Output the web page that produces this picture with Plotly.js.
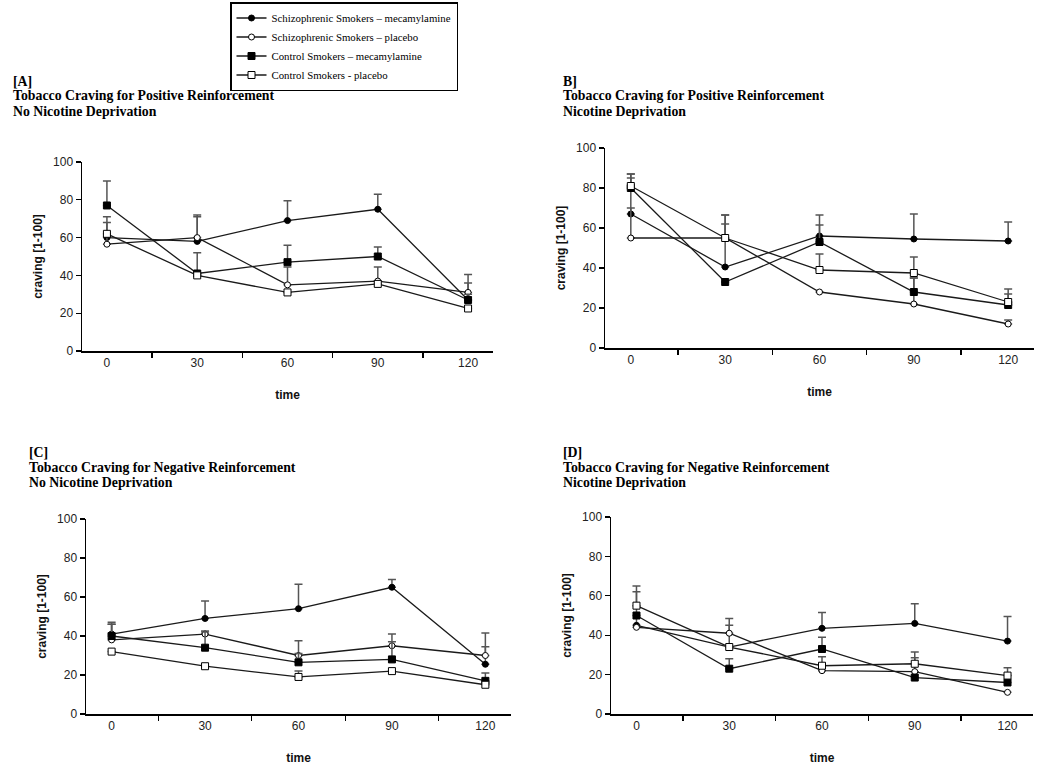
<!DOCTYPE html>
<html>
<head>
<meta charset="utf-8">
<script src="https://cdn.plot.ly/plotly-3.0.1.min.js"></script>
<style>
  body { margin: 0; background: #fff; }
  #chart { width: 1050px; height: 779px; }
</style>
</head>
<body>
<div id="chart"></div>
<script>
// time points (minutes)
const times = ['0', '30', '60', '90', '120'];

const seriesNames = [
  'Schizophrenic Smokers \u2013 mecamylamine',
  'Schizophrenic Smokers \u2013 placebo',
  'Control Smokers \u2013 mecamylamine',
  'Control Smokers - placebo'
];

// [A] positive reinforcement, no nicotine deprivation
const szMecaA = [60, 58, 69, 75, 27];
const szPlacA = [56.5, 60, 35, 37, 31];
const ctMecaA = [77, 41, 47, 50, 27];
const ctPlacA = [62, 40, 31, 35.5, 22.5];
const szMecaErrA = [8, 14, 10.5, 8, 13.5];
const szPlacErrA = [14.5, 11, 9.5, 7.5, 5];
const ctMecaErrA = [13, 11, 9, 5, 3];
const ctPlacErrA = [null, null, null, null, null];

// [B] positive reinforcement, nicotine deprivation
const szMecaB = [67, 40.5, 56, 54.5, 53.5];
const szPlacB = [55, 55, 28, 22, 12];
const ctMecaB = [80, 33, 53, 28, 21.5];
const ctPlacB = [81, 55, 39, 37.5, 23];
const szMecaErrB = [18, 21.5, 10.5, 12.5, 9.5];
const szPlacErrB = [15, 11.5, null, 13, 2];
const ctMecaErrB = [7, null, 8.5, 7, 5.5];
const ctPlacErrB = [6, 11.5, 8, 8, 6.5];

// [C] negative reinforcement, no nicotine deprivation
const szMecaC = [41, 49, 54, 65, 25.5];
const szPlacC = [38, 41, 30, 35, 30];
const ctMecaC = [40, 34, 26.5, 28, 17];
const ctPlacC = [32, 24.5, 19, 22, 15];
const szMecaErrC = [6, 9, 12.5, 4, 16];
const szPlacErrC = [8, 1.5, 7.5, 6, 4.5];
const ctMecaErrC = [6, 8, 4.5, 9, 4];
const ctPlacErrC = [null, null, 3, null, null];

// [D] negative reinforcement, nicotine deprivation
const szMecaD = [45, 34, 43.5, 46, 37];
const szPlacD = [44, 41, 22, 21.5, 11];
const ctMecaD = [50, 23, 33, 18.5, 16];
const ctPlacD = [55, 34, 24.5, 25.5, 19.5];
const szMecaErrD = [17, 11, 8, 10, 12.5];
const szPlacErrD = [null, 7.5, null, 7, null];
const ctMecaErrD = [null, 5, 6, null, null];
const ctPlacErrD = [10, null, 4.5, 6, 4];

const panelTitles = [
  ['[A]', 'Tobacco Craving for Positive Reinforcement', 'No Nicotine Deprivation'],
  ['B]', 'Tobacco Craving for Positive Reinforcement', 'Nicotine Deprivation'],
  ['[C]', 'Tobacco Craving for Negative Reinforcement', 'No Nicotine Deprivation'],
  ['[D]', 'Tobacco Craving for Negative Reinforcement', 'Nicotine Deprivation']
];

const panels = [
  { values: [szMecaA, szPlacA, ctMecaA, ctPlacA], errs: [szMecaErrA, szPlacErrA, ctMecaErrA, ctPlacErrA] },
  { values: [szMecaB, szPlacB, ctMecaB, ctPlacB], errs: [szMecaErrB, szPlacErrB, ctMecaErrB, ctPlacErrB] },
  { values: [szMecaC, szPlacC, ctMecaC, ctPlacC], errs: [szMecaErrC, szPlacErrC, ctMecaErrC, ctPlacErrC] },
  { values: [szMecaD, szPlacD, ctMecaD, ctPlacD], errs: [szMecaErrD, szPlacErrD, ctMecaErrD, ctPlacErrD] }
];

// marker look per series: filled circle, open circle, filled square, open square
const markerStyles = [
  { symbol: 'circle', size: 6, color: '#000' },
  { symbol: 'circle', size: 6, color: '#fff' },
  { symbol: 'square', size: 7, color: '#000' },
  { symbol: 'square', size: 7, color: '#fff' }
];

const W = 1050, H = 779;
// plot areas in pixels: [left, right, top, bottom]
const boxes = [
  [82, 493, 162, 351],
  [605, 1034, 148, 348],
  [86, 511, 519, 714],
  [611, 1033, 517, 714]
];
// title block position: left x, first line y
const titlePos = [[11, 81], [561, 81], [27, 452], [561, 452]];

const serif = 'Liberation Serif, Times New Roman, serif';
const sans = 'Liberation Sans, Arial, sans-serif';

let data = [];
let layout = {
  width: W,
  height: H,
  margin: { l: 0, r: 0, t: 0, b: 0 },
  paper_bgcolor: '#fff',
  plot_bgcolor: '#fff',
  showlegend: true,
  legend: {
    x: 230 / W, y: 1 - 2 / H, xanchor: 'left', yanchor: 'top',
    bordercolor: '#000', borderwidth: 1.5, bgcolor: '#fff',
    font: { family: serif, size: 10.8, color: '#000' },
    itemwidth: 30, tracegroupgap: 0
  },
  annotations: []
};

panels.forEach((p, i) => {
  const n = i + 1;
  const xa = n === 1 ? 'x' : 'x' + n;
  const ya = n === 1 ? 'y' : 'y' + n;
  const b = boxes[i];

  p.values.forEach((vals, s) => {
    const ms = markerStyles[s];
    data.push({
      x: times,
      y: vals,
      xaxis: xa,
      yaxis: ya,
      type: 'scatter',
      mode: 'lines+markers',
      name: seriesNames[s],
      showlegend: i === 0,
      line: { color: '#1a1a1a', width: 1.3 },
      marker: { symbol: ms.symbol, size: ms.size, color: ms.color, line: { color: '#000', width: 1 } },
      error_y: {
        type: 'data', symmetric: false,
        array: p.errs[s],
        arrayminus: p.errs[s].map(() => 0),
        color: '#555', thickness: 1.5, width: 4
      }
    });
  });

  layout['xaxis' + (n === 1 ? '' : n)] = {
    domain: [b[0] / W, b[1] / W],
    anchor: ya,
    type: 'category',
    tickson: 'boundaries',
    ticks: 'outside', ticklen: 5, tickwidth: 1.3, tickcolor: '#000',
    showline: true, linecolor: '#000', linewidth: 1.5,
    showgrid: false, zeroline: false,
    tickfont: { family: sans, size: 12, color: '#222' },
    title: { text: 'time', standoff: 21, font: { family: sans, size: 12, color: '#111', weight: 'bold' } }
  };
  layout['yaxis' + (n === 1 ? '' : n)] = {
    domain: [1 - b[3] / H, 1 - b[2] / H],
    anchor: xa,
    range: [0, 100],
    dtick: 20,
    ticks: 'outside', ticklen: 5, tickwidth: 1.3, tickcolor: '#000',
    showline: true, linecolor: '#000', linewidth: 1.5,
    showgrid: false, zeroline: false,
    tickfont: { family: sans, size: 12, color: '#222' },
    title: { text: 'craving [1-100]', standoff: 8, font: { family: sans, size: 12, color: '#111', weight: 'bold' } }
  };

  panelTitles[i].forEach((t, k) => {
    layout.annotations.push({
      text: t,
      xref: 'paper', yref: 'paper',
      x: titlePos[i][0] / W,
      y: 1 - (titlePos[i][1] + k * 15) / H,
      xanchor: 'left', yanchor: 'middle',
      showarrow: false,
      font: { family: serif, size: 13.8, color: '#000', weight: 'bold' }
    });
  });
});

Plotly.newPlot('chart', data, layout, { staticPlot: true });
</script>
</body>
</html>
